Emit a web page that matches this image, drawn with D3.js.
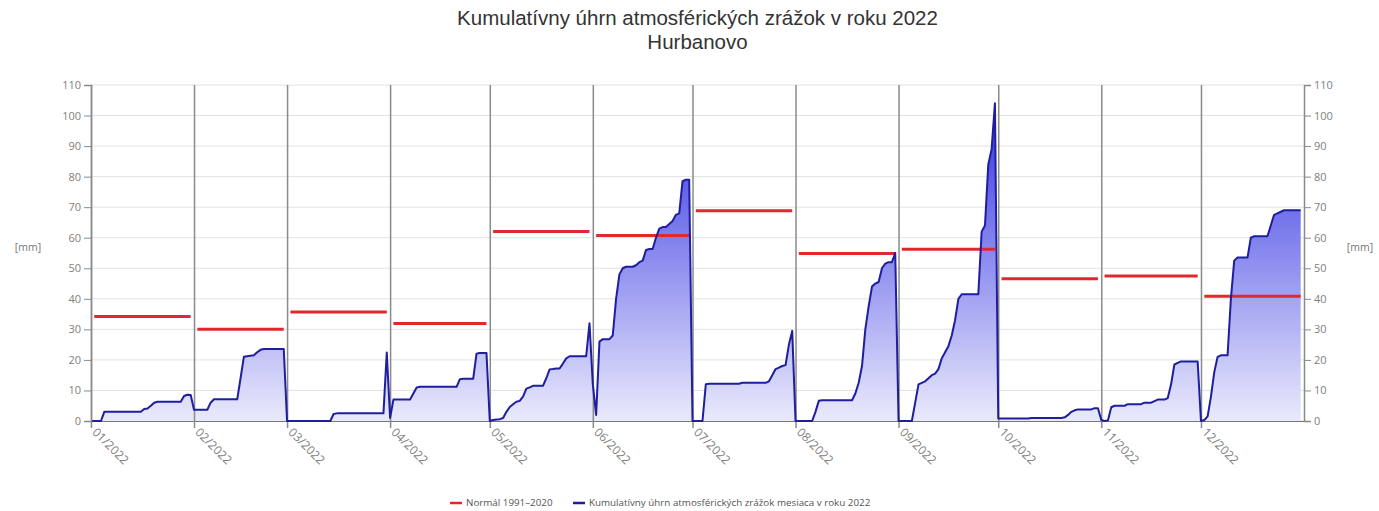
<!DOCTYPE html>
<html>
<head>
<meta charset="utf-8">
<script src="https://cdn.jsdelivr.net/npm/d3@7"></script>
<style>
body { margin: 0; background: #fff; }
text { font-family: "Open Sans", sans-serif; }
</style>
</head>
<body>
<svg id="chart" width="1379" height="511"></svg>
<script>
// month labels on the x axis
var months = ["01/2022", "02/2022", "03/2022", "04/2022", "05/2022", "06/2022",
              "07/2022", "08/2022", "09/2022", "10/2022", "11/2022", "12/2022"];

// normal 1991-2020 monthly totals [mm]
var normal = [34.2, 30.0, 35.7, 31.9, 62.0, 60.7, 68.8, 54.8, 56.2, 46.6, 47.5, 40.8];

// cumulative daily totals in each month of 2022 [mm]
var jan = [0, 0, 0, 0, 3, 3, 3, 3, 3, 3, 3, 3, 3, 3, 3, 3, 3.9, 4.1, 5, 6, 6.3, 6.3, 6.3, 6.3, 6.3, 6.3, 6.3, 6.3, 8.2, 8.6, 8.5];
var feb = [3.7, 3.7, 3.7, 3.7, 3.7, 6, 7.1, 7.1, 7.1, 7.1, 7.1, 7.1, 7.1, 7.1, 14, 21, 21.2, 21.4, 21.5, 22.5, 23.3, 23.6, 23.6, 23.6, 23.6, 23.6, 23.6, 23.6];
var mar = [0, 0, 0, 0, 0, 0, 0, 0, 0, 0, 0, 0, 0, 0, 2.3, 2.5, 2.5, 2.5, 2.5, 2.5, 2.5, 2.5, 2.5, 2.5, 2.5, 2.5, 2.5, 2.5, 2.5, 2.5, 22.4];
var apr = [1, 7, 7, 7, 7, 7, 7, 9, 11, 11.2, 11.2, 11.2, 11.2, 11.2, 11.2, 11.2, 11.2, 11.2, 11.2, 11.2, 11.2, 13.7, 13.8, 13.8, 13.8, 13.8, 22, 22.3, 22.3, 22.3];
var may = [0, 0.3, 0.5, 0.6, 1, 3, 4.6, 5.5, 6.3, 6.6, 8, 10.6, 11, 11.5, 11.5, 11.5, 11.5, 14, 16.9, 17, 17.2, 17.2, 18.8, 20.5, 21.2, 21.2, 21.2, 21.2, 21.2, 21.2, 32];
var jun = [12, 2, 26, 26.8, 26.8, 26.8, 28, 40, 48, 50, 50.5, 50.5, 50.5, 51, 52, 52.5, 56, 56.3, 56.3, 60, 63, 63.5, 63.5, 64.5, 65.5, 67.5, 68, 78.5, 79, 79];
var jul = [0, 0, 0, 0, 12, 12.2, 12.2, 12.2, 12.2, 12.2, 12.2, 12.2, 12.2, 12.2, 12.2, 12.5, 12.5, 12.5, 12.5, 12.5, 12.5, 12.5, 12.5, 13, 15, 17, 17.5, 18, 18.3, 25, 29.5];
var aug = [0, 0, 0, 0, 0, 0, 3, 6.6, 6.8, 6.8, 6.8, 6.8, 6.8, 6.8, 6.8, 6.8, 6.8, 6.8, 9, 12.5, 18, 30, 37.5, 44, 45, 45.5, 50, 51.5, 52, 52, 55];
var sep = [0, 0, 0, 0, 0, 6, 12, 12.5, 13, 14, 15, 15.5, 17, 20.5, 22.5, 24.5, 28, 33, 40, 41.5, 41.5, 41.5, 41.5, 41.5, 41.5, 62, 64, 84, 89, 104];
var oct = [0.8, 0.8, 0.8, 0.8, 0.8, 0.8, 0.8, 0.8, 0.8, 0.8, 1, 1, 1, 1, 1, 1, 1, 1, 1, 1, 1.2, 2, 3, 3.5, 3.8, 3.8, 3.8, 3.8, 3.8, 4.2, 4.2];
var nov = [0.3, 0, 0.2, 4.5, 5, 5, 5, 5, 5.5, 5.5, 5.5, 5.5, 5.5, 6, 6, 6, 6.5, 7, 7, 7, 7.5, 12, 18.5, 19, 19.5, 19.5, 19.5, 19.5, 19.5, 19.5];
var dec = [0, 0.3, 1.5, 8, 16, 21, 21.5, 21.5, 21.5, 40, 52.5, 53.5, 53.5, 53.5, 53.5, 60, 60.5, 60.5, 60.5, 60.5, 60.5, 64, 67.5, 68, 68.5, 69, 69, 69, 69, 69, 69];

var monthly = [jan, feb, mar, apr, may, jun, jul, aug, sep, oct, nov, dec];
var yTicks = d3.range(0, 111, 10);

var width = 1379, height = 511;
var margin = {top: 85, right: 75, bottom: 90, left: 91};

var svg = d3.select("#chart");

var x = d3.scaleUtc()
    .domain([new Date(Date.UTC(2022, 0, 1)), new Date(Date.UTC(2023, 0, 1))])
    .range([margin.left, width - margin.right]);

var y = d3.scaleLinear()
    .domain([0, 110])
    .range([height - margin.bottom, margin.top]);

// one point per day, month values joined into one series
var daily = [];
monthly.forEach(function(arr, m) {
    arr.forEach(function(v, i) {
        daily.push({date: new Date(Date.UTC(2022, m, i + 1)), value: v});
    });
});
var monthStarts = months.map(function(d, m) { return new Date(Date.UTC(2022, m, 1)); });

// gradient for the area, bound to the y range
var grad = svg.append("defs").append("linearGradient")
    .attr("id", "fillGrad")
    .attr("gradientUnits", "userSpaceOnUse")
    .attr("x1", 0).attr("x2", 0)
    .attr("y1", y(110)).attr("y2", y(0));
grad.append("stop").attr("offset", 0).attr("stop-color", "rgb(40,40,225)");
grad.append("stop").attr("offset", 1).attr("stop-color", "rgb(234,234,252)");

// horizontal grid
svg.append("g").selectAll("line")
    .data(yTicks)
    .enter().append("line")
    .attr("x1", margin.left).attr("x2", width - margin.right)
    .attr("y1", function(d) { return y(d); })
    .attr("y2", function(d) { return y(d); })
    .attr("stroke", "#e2e2e2")
    .attr("stroke-width", 1);

// area + line
var area = d3.area()
    .x(function(d) { return x(d.date); })
    .y0(y(0))
    .y1(function(d) { return y(d.value); });

var line = d3.line()
    .x(function(d) { return x(d.date); })
    .y(function(d) { return y(d.value); });

svg.append("path")
    .datum(daily)
    .attr("d", area)
    .attr("fill", "url(#fillGrad)");

// month separators (x axis ticks run through the plot)
var xAxis = d3.axisBottom(x)
    .tickValues(monthStarts)
    .tickFormat(function(d, i) { return months[i]; })
    .tickSizeInner(-(height - margin.top - margin.bottom))
    .tickSizeOuter(0);

var gx = svg.append("g")
    .attr("transform", "translate(0," + (height - margin.bottom) + ")")
    .call(xAxis);
gx.select(".domain").attr("stroke", "#777").attr("stroke-width", 1.2);
gx.selectAll(".tick line").attr("stroke", "#8a8a8a").attr("stroke-width", 1.5).attr("y2", 7)
    .attr("y1", -(height - margin.top - margin.bottom));
gx.selectAll(".tick text")
    .attr("fill", "#808080")
    .attr("font-size", 12)
    .attr("text-anchor", "start")
    .attr("dy", 0)
    .attr("transform", "translate(0,12) rotate(45)")
    .attr("y", 0).attr("x", 0);

// normals
svg.append("g").selectAll("line")
    .data(normal)
    .enter().append("line")
    .attr("x1", function(d, m) { return x(new Date(Date.UTC(2022, m, 2))); })
    .attr("x2", function(d, m) { return x(new Date(Date.UTC(2022, m, monthly[m].length))); })
    .attr("y1", function(d) { return y(d); })
    .attr("y2", function(d) { return y(d); })
    .attr("stroke", "#e0282d")
    .attr("stroke-width", 3);

svg.append("path")
    .datum(daily)
    .attr("d", line)
    .attr("fill", "none")
    .attr("stroke", "#1e1e9e")
    .attr("stroke-width", 2)
    .attr("stroke-linejoin", "round");

// y axes on both sides
function styleY(g) {
    g.select(".domain").attr("stroke", "#8a8a8a").attr("stroke-width", 1.5);
    g.selectAll(".tick line").attr("stroke", "#8a8a8a");
    g.selectAll(".tick text").attr("fill", "#808080").attr("font-size", 11);
}
svg.append("g")
    .attr("transform", "translate(" + margin.left + ",0)")
    .call(d3.axisLeft(y).tickValues(yTicks).tickSize(7).tickPadding(3))
    .call(styleY);
svg.append("g")
    .attr("transform", "translate(" + (width - margin.right) + ",0)")
    .call(d3.axisRight(y).tickValues(yTicks).tickSize(7).tickPadding(3))
    .call(styleY);

svg.append("text").attr("x", 28).attr("y", y(55.5)).attr("text-anchor", "middle")
    .attr("fill", "#777").attr("font-size", 10.5).text("[mm]");
svg.append("text").attr("x", 1360).attr("y", y(55.5)).attr("text-anchor", "middle")
    .attr("fill", "#777").attr("font-size", 10.5).text("[mm]");

// title
var titleX = (margin.left + width - margin.right) / 2;
svg.append("text").attr("x", titleX).attr("y", 25)
    .attr("text-anchor", "middle").attr("fill", "#333").attr("font-size", 20.5)
    .style("font-family", "'Liberation Sans', sans-serif")
    .text("Kumulatívny úhrn atmosférických zrážok v roku 2022");
svg.append("text").attr("x", titleX).attr("y", 48.5)
    .attr("text-anchor", "middle").attr("fill", "#333").attr("font-size", 20.5)
    .style("font-family", "'Liberation Sans', sans-serif")
    .text("Hurbanovo");

// legend
var legendItems = [
    {label: "Normál 1991–2020", color: "#e0282d", x: 450},
    {label: "Kumulatívny úhrn atmosférických zrážok mesiaca v roku 2022", color: "#1e1e9e", x: 573}
];
var lg = svg.append("g").selectAll("g")
    .data(legendItems)
    .enter().append("g")
    .attr("transform", function(d) { return "translate(" + d.x + ",503)"; });
lg.append("line").attr("x1", 0).attr("x2", 12)
    .attr("stroke", function(d) { return d.color; }).attr("stroke-width", 2.5);
lg.append("text").attr("x", 16).attr("dy", "0.35em")
    .attr("fill", "#555").attr("font-size", 9.8)
    .text(function(d) { return d.label; });
</script>
</body>
</html>
